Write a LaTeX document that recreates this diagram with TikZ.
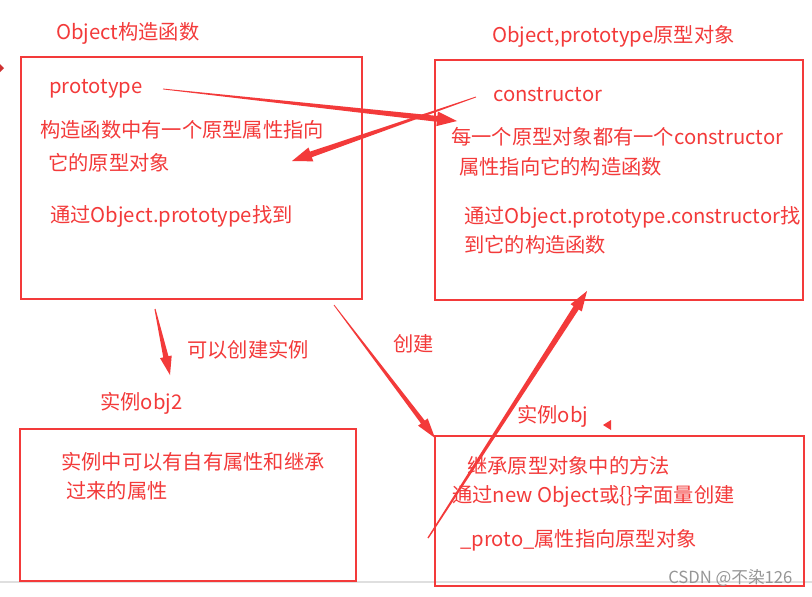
\documentclass[tikz,border=0pt]{standalone}
\usepackage{fontspec}
\setmainfont{Noto Sans CJK SC}
\usetikzlibrary{calc}
\definecolor{rd}{RGB}{243,58,58}
\definecolor{wm}{RGB}{150,150,150}
\newcommand\taperarrow[6]{%
  \coordinate (hb) at ($(#2)!#5!(#1)$);
  \fill[rd] ($(#1)!#3!90:(#2)$) -- ($(hb)!#4!90:(#2)$) -- ($(hb)!#6!90:(#2)$) -- (#2)
    -- ($(hb)!#6!-90:(#2)$) -- ($(hb)!#4!-90:(#2)$) -- ($(#1)!#3!-90:(#2)$) -- cycle;}
\begin{document}
\begin{tikzpicture}[x=0.75pt,y=-0.75pt,
  box/.style={draw=rd,line width=0.9pt},
  txt/.style={text=rd,font=\fontsize{15.2pt}{18pt}\selectfont,anchor=west,inner sep=0pt}]
\useasboundingbox (0,0) rectangle (812,596);
\fill[white] (0,0) rectangle (812,596);
\draw[gray!25,line width=0.8pt] (0,582) -- (812,582);
% boxes
\draw[box] (21,57) rectangle (362,299);
\draw[box] (435,60) rectangle (803,300);
\draw[box] (20,429) rectangle (356,581);
\draw[box] (435,436) rectangle (804,586);
% titles and texts
\node[txt] (t1) at (56,33) {Object构造函数};
\node[txt] (p1) at (49,89) {prototype};
\node[txt] (d1) at (40,130) {构造函数中有一个原型属性指向};
\node[txt] (d2) at (48,163) {它的原型对象};
\node[txt] (d3) at (50,216) {通过Object.prototype找到};
\node[txt] (t2) at (492,36) {Object,prototype原型对象};
\node[txt] (c1) at (493,95) {constructor};
\node[txt] (e1) at (451,137) {每一个原型对象都有一个constructor};
\node[txt] (e2) at (459,167) {属性指向它的构造函数};
\node[txt] (e3) at (464,217) {通过Object.prototype.constructor找};
\node[txt] (e4) at (464,245) {到它的构造函数};
\node[txt] (l1) at (187,350) {可以创建实例};
\node[txt] (l2) at (393,344) {创建};
\node[txt] (t3) at (100,403) {实例obj2};
\node[txt] (f1) at (61,462) {实例中可以有自有属性和继承};
\node[txt] (f2) at (66,491) {过来的属性};
\node[txt] (t4) at (517,416) {实例obj};
\node[txt] (g1) at (467,466) {继承原型对象中的方法};
\node[txt] (g2) at (452,496) {通过new Object或\{\}字面量创建};
\node[txt] (g3) at (460,540) {\_proto\_属性指向原型对象};
\node[anchor=west,inner sep=0pt,text=wm,font=\fontsize{12.5pt}{14pt}\selectfont] (wmk) at (668,578) {CSDN @不染126};
% arrow end points
\coordinate (a1s) at (163,89);  \coordinate (a1e) at (457,121);
\coordinate (a2s) at (476,97);  \coordinate (a2e) at (292,161);
\coordinate (a3s) at (155,309); \coordinate (a3e) at (170,375);
\coordinate (a4s) at (334,305); \coordinate (a4e) at (435,438);
\coordinate (a5s) at (428,538); \coordinate (a5e) at (587,291);
\taperarrow{a1s}{a1e}{0.3pt}{2.2pt}{15pt}{5.5pt}
\taperarrow{a2s}{a2e}{0.3pt}{2.2pt}{15pt}{5.5pt}
\taperarrow{a3s}{a3e}{0.4pt}{2pt}{14pt}{4.5pt}
\taperarrow{a4s}{a4e}{0.3pt}{1.8pt}{15pt}{4.5pt}
\taperarrow{a5s}{a5e}{0.5pt}{2.3pt}{15pt}{5pt}
% small marks
\coordinate (m1) at (611,420);
\fill[rd] (m1) -- (611,430) -- (603,425) -- cycle;
\fill[rd!85!black] (0,64) -- (4,68) -- (0,72) -- cycle;
\end{tikzpicture}
\end{document}
